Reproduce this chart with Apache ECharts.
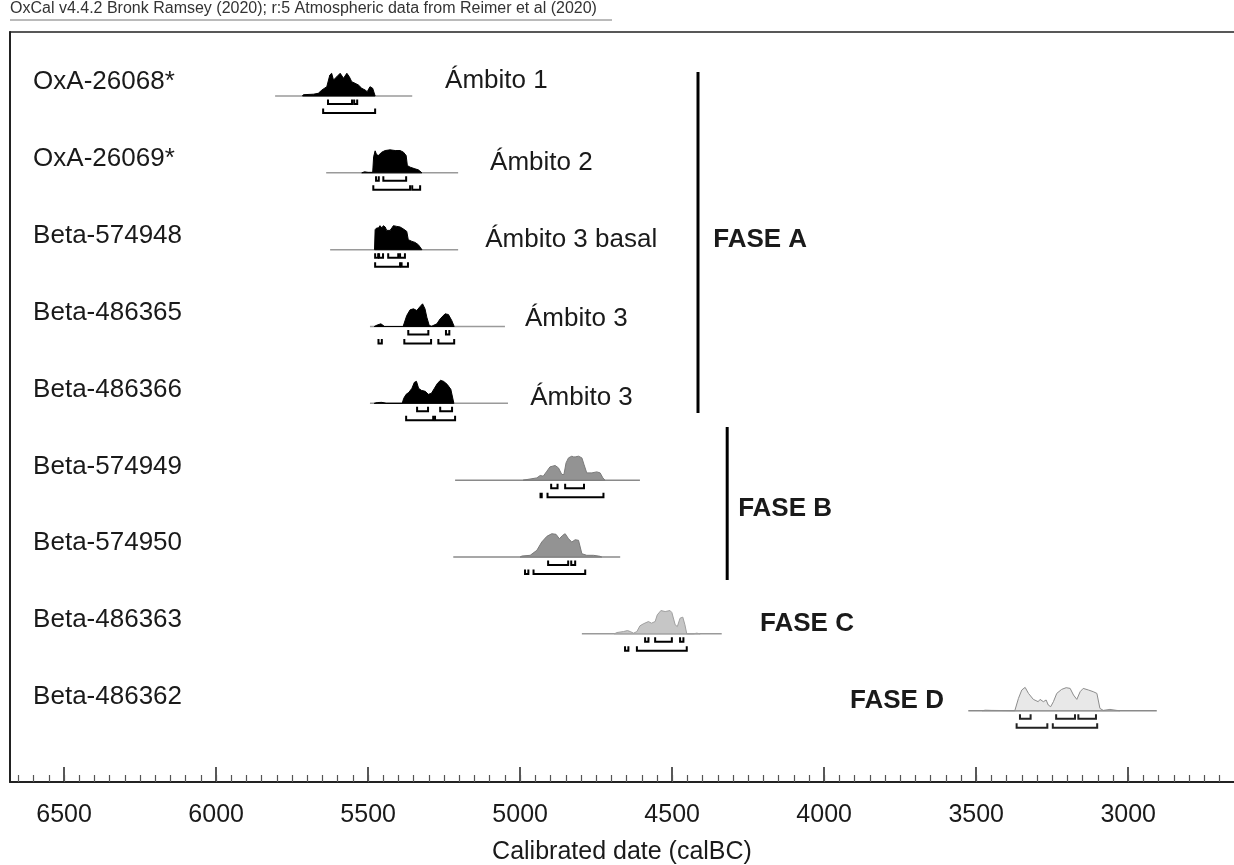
<!DOCTYPE html>
<html><head><meta charset="utf-8">
<script src="https://cdn.jsdelivr.net/npm/echarts@6/dist/echarts.min.js"></script>
<style>html,body{margin:0;padding:0;background:#fff}#c{width:1234px;height:865px}</style>
</head><body><div id="c"></div>
<script>
const headerText = 'OxCal v4.4.2 Bronk Ramsey (2020); r:5 Atmospheric data from Reimer et al (2020)';
const axisTitle = 'Calibrated date (calBC)';
const tickLabels = [6500, 6000, 5500, 5000, 4500, 4000, 3500, 3000];
const sampleIds = ['OxA-26068*', 'OxA-26069*', 'Beta-574948', 'Beta-486365', 'Beta-486366', 'Beta-574949', 'Beta-574950', 'Beta-486363', 'Beta-486362'];
const contextLabels = ['Ámbito 1', 'Ámbito 2', 'Ámbito 3 basal', 'Ámbito 3', 'Ámbito 3'];
const phaseNames = ['FASE A', 'FASE B', 'FASE C', 'FASE D'];
const phaseOfSample = [0, 0, 0, 0, 0, 1, 1, 2, 3];
// calibration plotting range [from, to] (cal BC)
const ranges = [[5806, 5355], [5638, 5204], [5625, 5204], [5494, 5050], [5494, 5040], [5214, 4606], [5220, 4671], [4797, 4337], [3526, 2906]];
// probability densities [cal BC, relative density]
const dist0 = [[5716,0],[5713,1.3],[5680,1.8],[5664,2.7],[5652,6],[5636,9.3],[5626,21],[5620,22.7],[5614,16],[5603,19.3],[5592,22.7],[5581,17.7],[5570,22.7],[5562,19.3],[5554,14.3],[5543,12.7],[5532,11],[5521,7.7],[5510,6],[5503,4.3],[5494,9.3],[5485,7.7],[5477,0]];
const dist1 = [[5521,0],[5512,1],[5500,0.5],[5485,0.5],[5482,16],[5477,22],[5472,18],[5466,17.5],[5455,20.7],[5444,22.3],[5428,23],[5411,22.3],[5395,22.3],[5384,20.7],[5375,17.3],[5371,7.3],[5362,5.7],[5346,4],[5335,3],[5323,0]];
const dist2 = [[5479,0],[5477,20],[5472,21.7],[5466,21.7],[5461,24],[5455,21.7],[5450,24],[5444,22.7],[5439,19.3],[5428,19.3],[5422,21.7],[5417,24],[5406,23.3],[5395,22.7],[5384,20.7],[5373,18.3],[5368,10],[5356,8.3],[5346,7.3],[5335,5],[5323,0]];
const dist3 = [[5480,0],[5470,1.5],[5458,2.7],[5446,0],[5385,0],[5373,11],[5362,16.7],[5351,17.7],[5340,16],[5329,20],[5321,22.7],[5313,17.7],[5307,9.3],[5299,1],[5291,0.3],[5274,2.7],[5263,7.7],[5247,12.7],[5236,12],[5225,6],[5217,0]];
const dist4 = [[5480,0],[5470,0.8],[5455,1],[5440,0],[5388,0],[5383,5],[5375,9],[5366,11],[5356,15],[5348,21],[5341,22],[5334,15],[5325,13],[5312,12],[5302,9],[5292,10],[5282,15],[5272,20],[5262,23],[5252,22],[5240,19],[5228,14],[5218,0]];
const dist5 = [[4990,0],[4945,2.3],[4934,4.7],[4924,4],[4912,9],[4902,13.3],[4885,14.7],[4874,12.3],[4863,5.7],[4856,5.7],[4849,17.3],[4841,22.3],[4830,24],[4824,23.3],[4819,23.3],[4808,24],[4797,22.3],[4790,15.7],[4781,7.3],[4764,7.3],[4748,8.3],[4737,7.3],[4728,2.3],[4721,0]];
const dist6 = [[5000,0],[4994,1],[4967,1.7],[4945,6.7],[4929,15],[4912,20.7],[4896,23.3],[4882,22.7],[4871,18.3],[4860,21.7],[4852,23.3],[4841,18.3],[4830,15],[4819,17.3],[4808,16.7],[4797,3.3],[4781,1.7],[4759,1.7],[4737,0.7],[4732,0]];
const dist7 = [[4690,0],[4682,1.3],[4660,2.3],[4647,3.3],[4638,2.3],[4627,0.7],[4616,2.3],[4606,8],[4595,10],[4578,12.3],[4568,10.7],[4556,12.3],[4549,19],[4537,23.3],[4523,22.3],[4507,23.3],[4501,21.3],[4490,9],[4483,7.3],[4474,15.7],[4465,16.7],[4458,9],[4452,0],[4430,0],[4419,0.7],[4408,0]];
const dist8 = [[3480,0],[3470,0.5],[3450,0.3],[3373,0],[3361,12.3],[3350,20.7],[3339,23.3],[3328,17.3],[3312,11.3],[3296,9],[3290,11.3],[3279,9],[3270,10.7],[3263,5.7],[3255,4],[3246,9],[3235,17.3],[3219,21.3],[3204,23],[3191,22.3],[3180,15.7],[3169,11.3],[3158,19],[3148,22.3],[3131,20.7],[3115,19],[3103,17.3],[3093,2.3],[3082,0.3],[3060,1.3],[3038,0.3],[3027,0]];
const dists = [dist0, dist1, dist2, dist3, dist4, dist5, dist6, dist7, dist8];
// highest posterior density ranges [from, to] (cal BC)
const hpd68 = [
  [[5632,5553],[5546,5536]],
  [[5474,5465],[5450,5375]],
  [[5477,5467],[5464,5451],[5434,5401],[5395,5379]],
  [[5368,5302],[5244,5233]],
  [[5339,5303],[5263,5224]],
  [[4898,4877],[4852,4790]],
  [[4908,4842],[4832,4819]],
  [[4589,4578],[4556,4501],[4474,4463]],
  [[3356,3321],[3237,3175],[3164,3106]]
];
const hpd95 = [
  [[5648,5477]],
  [[5483,5362],[5355,5329]],
  [[5477,5395],[5390,5369]],
  [[5466,5455],[5381,5293],[5269,5217]],
  [[5375,5286],[5280,5214]],
  [[4933,4929],[4910,4726]],
  [[4984,4973],[4956,4786]],
  [[4655,4644],[4616,4452]],
  [[3367,3266],[3248,3102]]
];

// ---------- layout / styling (not data) ----------
const FONT = '"Liberation Sans", Arial, Helvetica, sans-serif';
const PX_PER_ROW = 76.84;
const K = 1 / PX_PER_ROW;
const phaseFill = ['#000000', '#939393', '#c6c6c6', '#e8e8e8'];
const phaseStroke = ['#000000', '#7a7a7a', '#a0a0a0', '#8c8c8c'];
const baseColor = ['#9a9a9a', '#8a8a8a', '#9a9a9a', '#8a8a8a'];
const idYear = 6602;
const contextAnchors = [[5247, -0.195], [5099, -0.134], [5115, -0.13], [4984, -0.104], [4967, -0.078]];
const phaseLayout = [
  { line: [4415, -0.312, 4.125], label: [4365] },
  { line: [4319, 4.308, 6.299], label: [4283] },
  { line: null, label: [4211] },
  { line: null, label: [3915] }
];
const minorTicks = [];
for (let y = 2700; y <= 6650; y += 50) minorTicks.push(y);

const XMIN = 2652, XMAX = 6678;

const rowData = sampleIds.map((id, i) => [ranges[i][0], i, ranges[i][1]]);
const bracketData = [];
hpd68.forEach((arr, i) => arr.forEach(r => bracketData.push([r[0], i, r[1], 0])));
hpd95.forEach((arr, i) => arr.forEach(r => bracketData.push([r[0], i, r[1], 1])));

const textItems = [];
sampleIds.forEach((id, i) => textItems.push({ value: [idYear, i - 0.18], text: id, bold: false, align: 'left' }));
contextLabels.forEach((t, i) => textItems.push({ value: [contextAnchors[i][0], i + contextAnchors[i][1]], text: t, bold: false, align: 'left' }));
phaseNames.forEach((p, k) => {
  const members = phaseOfSample.map((ph, i) => ph === k ? i : -1).filter(i => i >= 0);
  const mean = members.reduce((a, b) => a + b, 0) / members.length;
  textItems.push({ value: [phaseLayout[k].label[0], mean - 0.13], text: p, bold: true, align: 'left' });
});
const phaseLineData = phaseLayout.filter(p => p.line).map(p => p.line);

function renderBase(params, api) {
  const a = api.value(0), i = api.value(1), b = api.value(2);
  const p1 = api.coord([a, i]), p2 = api.coord([b, i]);
  return { type: 'line', shape: { x1: p1[0], y1: p1[1], x2: p2[0], y2: p2[1] },
    style: { stroke: baseColor[phaseOfSample[i]], lineWidth: 1.5 } };
}
function renderDist(params, api) {
  const i = api.value(1);
  const d = dists[i];
  const pts = [api.coord([d[0][0], i])];
  d.forEach(p => pts.push(api.coord([p[0], i - p[1] * K])));
  pts.push(api.coord([d[d.length - 1][0], i]));
  const ph = phaseOfSample[i];
  return { type: 'polygon', shape: { points: pts },
    style: { fill: phaseFill[ph], stroke: phaseStroke[ph], lineWidth: 1 } };
}
function renderBracket(params, api) {
  const a = api.value(0), i = api.value(1), b = api.value(2), lvl = api.value(3);
  const y = i + (lvl ? 17 : 8) * K;
  const p1 = api.coord([a, y]), p2 = api.coord([b, y]);
  return { type: 'polyline',
    shape: { points: [[p1[0], p1[1] - 4.5], [p1[0], p1[1]], [p2[0], p2[1]], [p2[0], p2[1] - 4.5]] },
    style: { stroke: phaseOfSample[i] === 3 ? '#222' : '#000', lineWidth: 2, fill: null } };
}
function renderPhaseLine(params, api) {
  const x = api.value(0), a = api.value(1), b = api.value(2);
  const p1 = api.coord([x, a]), p2 = api.coord([x, b]);
  return { type: 'line', shape: { x1: p1[0], y1: p1[1], x2: p2[0], y2: p2[1] },
    style: { stroke: '#000', lineWidth: 3 } };
}
function renderText(params, api) {
  const it = textItems[params.dataIndex];
  const p = api.coord([api.value(0), api.value(1)]);
  return { type: 'text', x: p[0], y: p[1],
    style: { text: it.text, fill: '#1a1a1a', font: (it.bold ? 'bold ' : '') + '26px ' + FONT,
      textAlign: it.align, textVerticalAlign: 'middle', align: it.align, verticalAlign: 'middle' } };
}

const chart = echarts.init(document.getElementById('c'));
const axisBase = { type: 'value', min: XMIN, max: XMAX, inverse: true, splitLine: { show: false } };
chart.setOption({
  animation: false,
  backgroundColor: '#fff',
  grid: { left: 10, right: 0, top: 32, bottom: 83, containLabel: false, outerBoundsMode: 'none' },
  xAxis: [
    Object.assign({}, axisBase, {
      position: 'bottom',
      axisLine: { show: true, onZero: false, lineStyle: { color: '#222', width: 2 } },
      axisTick: { show: true, inside: true, length: 15, customValues: tickLabels, lineStyle: { color: '#222', width: 1.5 } },
      axisLabel: { show: true, customValues: tickLabels, formatter: v => String(v), fontSize: 25, fontFamily: FONT, color: '#1a1a1a', margin: 21 },
      name: axisTitle, nameLocation: 'middle', nameGap: 58,
      nameTextStyle: { fontSize: 25, fontFamily: FONT, color: '#1a1a1a' }
    }),
    Object.assign({}, axisBase, {
      position: 'bottom',
      axisLine: { show: false, onZero: false },
      axisTick: { show: true, inside: true, length: 7, customValues: minorTicks, lineStyle: { color: '#555', width: 1.2 } },
      axisLabel: { show: false }
    }),
    Object.assign({}, axisBase, {
      position: 'top',
      axisLine: { show: true, onZero: false, lineStyle: { color: '#222', width: 1.5 } },
      axisTick: { show: false }, axisLabel: { show: false }
    })
  ],
  yAxis: { type: 'value', min: -0.833, max: 8.928, inverse: true,
    axisLine: { show: true, onZero: false, lineStyle: { color: '#222', width: 2 } },
    axisTick: { show: false }, axisLabel: { show: false }, splitLine: { show: false } },
  graphic: [
    { type: 'text', left: 10, top: 1, style: { text: headerText, font: '16px ' + FONT, fill: '#333' } },
    { type: 'line', shape: { x1: 10, y1: 20, x2: 612, y2: 20 }, style: { stroke: '#777', lineWidth: 1 } }
  ],
  series: [
    { type: 'custom', name: 'range', renderItem: renderBase, data: rowData, encode: { x: [0, 2], y: 1 }, silent: true },
    { type: 'custom', name: 'density', renderItem: renderDist, data: rowData, encode: { x: [0, 2], y: 1 }, silent: true },
    { type: 'custom', name: 'hpd', renderItem: renderBracket, data: bracketData, encode: { x: [0, 2], y: 1 }, silent: true },
    { type: 'custom', name: 'phases', renderItem: renderPhaseLine, data: phaseLineData, encode: { x: 0, y: [1, 2] }, silent: true },
    { type: 'custom', name: 'labels', renderItem: renderText, data: textItems, encode: { x: 0, y: 1 }, silent: true }
  ]
});
</script>
</body></html>
